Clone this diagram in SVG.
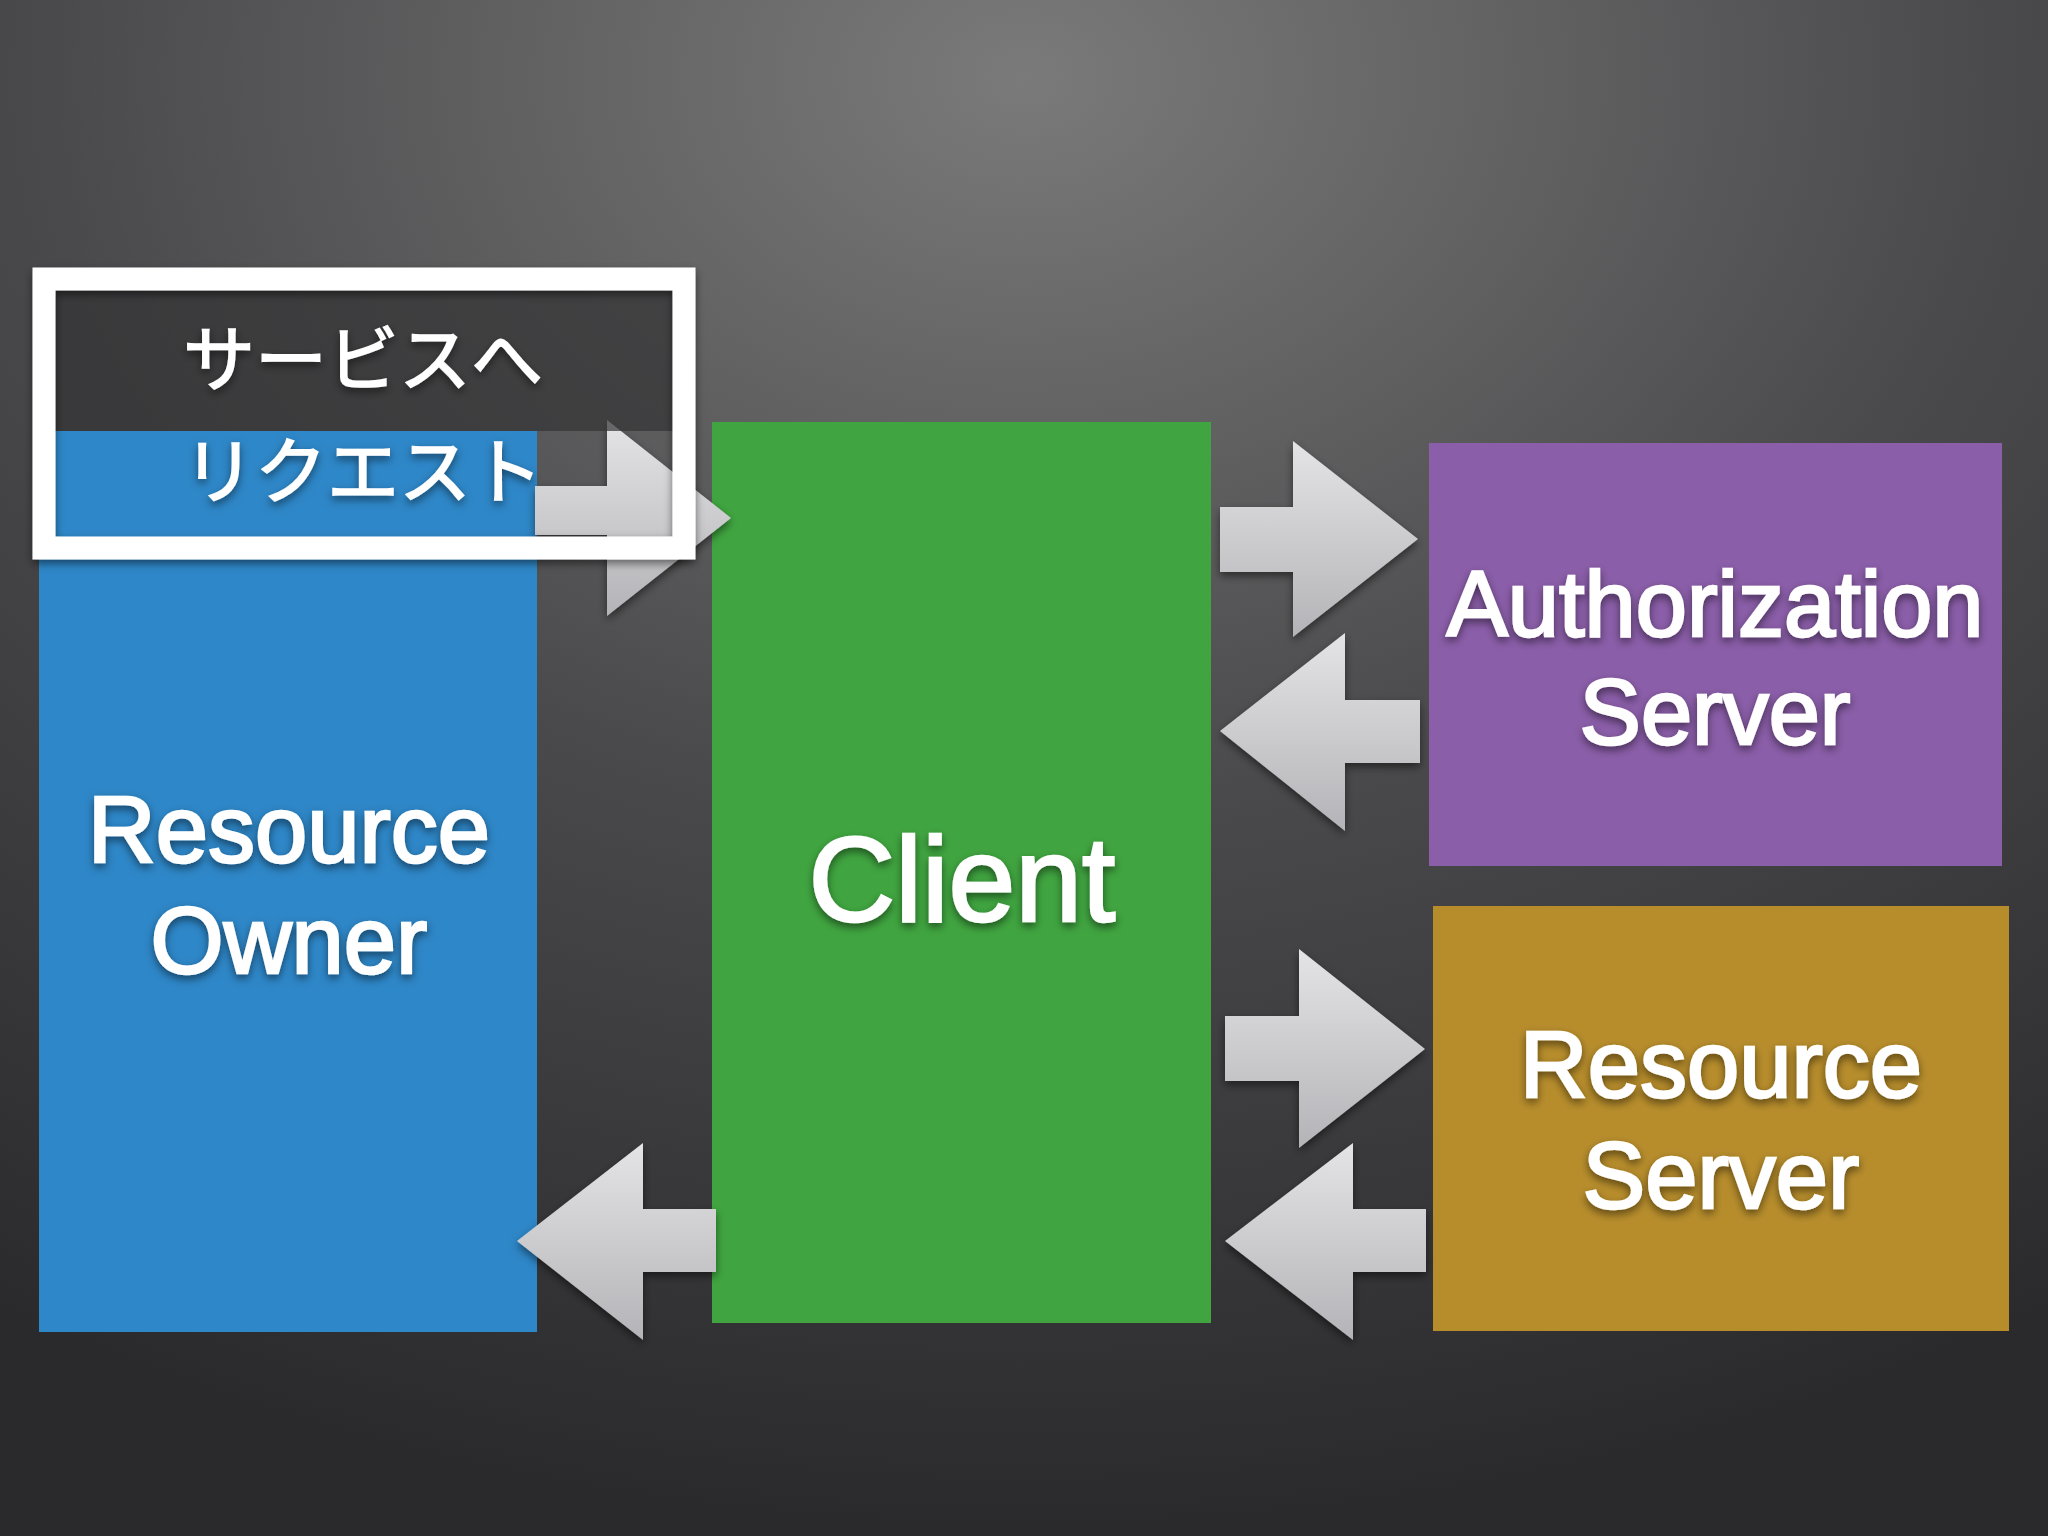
<svg xmlns="http://www.w3.org/2000/svg" width="2048" height="1536" viewBox="0 0 2048 1536">
<defs>
<radialGradient id="bg" cx="0.5" cy="0.05" r="0.95">
<stop offset="0" stop-color="#7a7a7a"/><stop offset="0.5" stop-color="#4a4a4c"/><stop offset="1" stop-color="#2a2a2c"/>
</radialGradient>
<linearGradient id="ar" x1="0" y1="0" x2="0" y2="1">
<stop offset="0" stop-color="#e4e4e6"/><stop offset="1" stop-color="#b4b4b8"/>
</linearGradient>
<filter id="sh" x="-10%" y="-10%" width="120%" height="120%"><feDropShadow dx="0" dy="4" stdDeviation="4" flood-color="#000" flood-opacity="0.5"/></filter>
</defs>
<style>
.t{font-family:"Liberation Sans",Arial,sans-serif;fill:#fff;stroke:#fff;stroke-width:2.5;text-anchor:middle;filter:url(#sh)}
.j{font-family:"Liberation Sans","Noto Sans CJK JP",sans-serif;fill:#fff;stroke:#fff;stroke-width:1.5;text-anchor:middle;font-size:72px;filter:url(#sh)}
.a{fill:url(#ar)}
</style>
<rect width="2048" height="1536" fill="url(#bg)"/>
<g id="resource-owner"><rect x="39" y="431" width="498" height="901" fill="#2e87c8"/>
<text class="t" x="289" y="862" font-size="94">Resource</text><text class="t" x="289" y="973" font-size="94">Owner</text></g>
<g id="client"><rect x="712" y="422" width="499" height="901" fill="#40a540"/>
<text class="t" x="962" y="921" font-size="120">Client</text></g>
<g id="authorization-server"><rect x="1429" y="443" width="573" height="423" fill="#8b5ea9"/>
<text class="t" x="1715" y="636" font-size="92">Authorization</text><text class="t" x="1715" y="744" font-size="92">Server</text></g>
<g id="resource-server"><rect x="1433" y="906" width="576" height="425" fill="#b78d2c"/>
<text class="t" x="1721" y="1097" font-size="94">Resource</text><text class="t" x="1721" y="1208" font-size="94">Server</text></g>
<g id="connectors" filter="url(#sh)">
<polygon class="a" points="535,486 607,486 607,420 731,518 607,616 607,535 535,535"/>
<polygon class="a" points="1220,507 1293,507 1293,441 1418,539 1293,637 1293,572 1220,572"/>
<polygon class="a" points="1420,700 1345,700 1345,633 1220,731 1345,831 1345,763 1420,763"/>
<polygon class="a" points="1225,1016 1299,1016 1299,949 1425,1049 1299,1148 1299,1081 1225,1081"/>
<polygon class="a" points="1426,1209 1353,1209 1353,1143 1225,1241 1353,1340 1353,1272 1426,1272"/>
<polygon class="a" points="716,1209 643,1209 643,1143 517,1241 643,1340 643,1272 716,1272"/>
</g>
<g id="callout">
<path d="M55,290 H673 V431 H55 Z" fill="#333335" opacity="0.7"/>
<rect x="44" y="279" width="640" height="269" fill="none" stroke="#fff" stroke-width="23" filter="url(#sh)"/>
<text class="j" x="363" y="385">サービスへ</text><text class="j" x="363" y="497">リクエスト</text>
</g>
</svg>
